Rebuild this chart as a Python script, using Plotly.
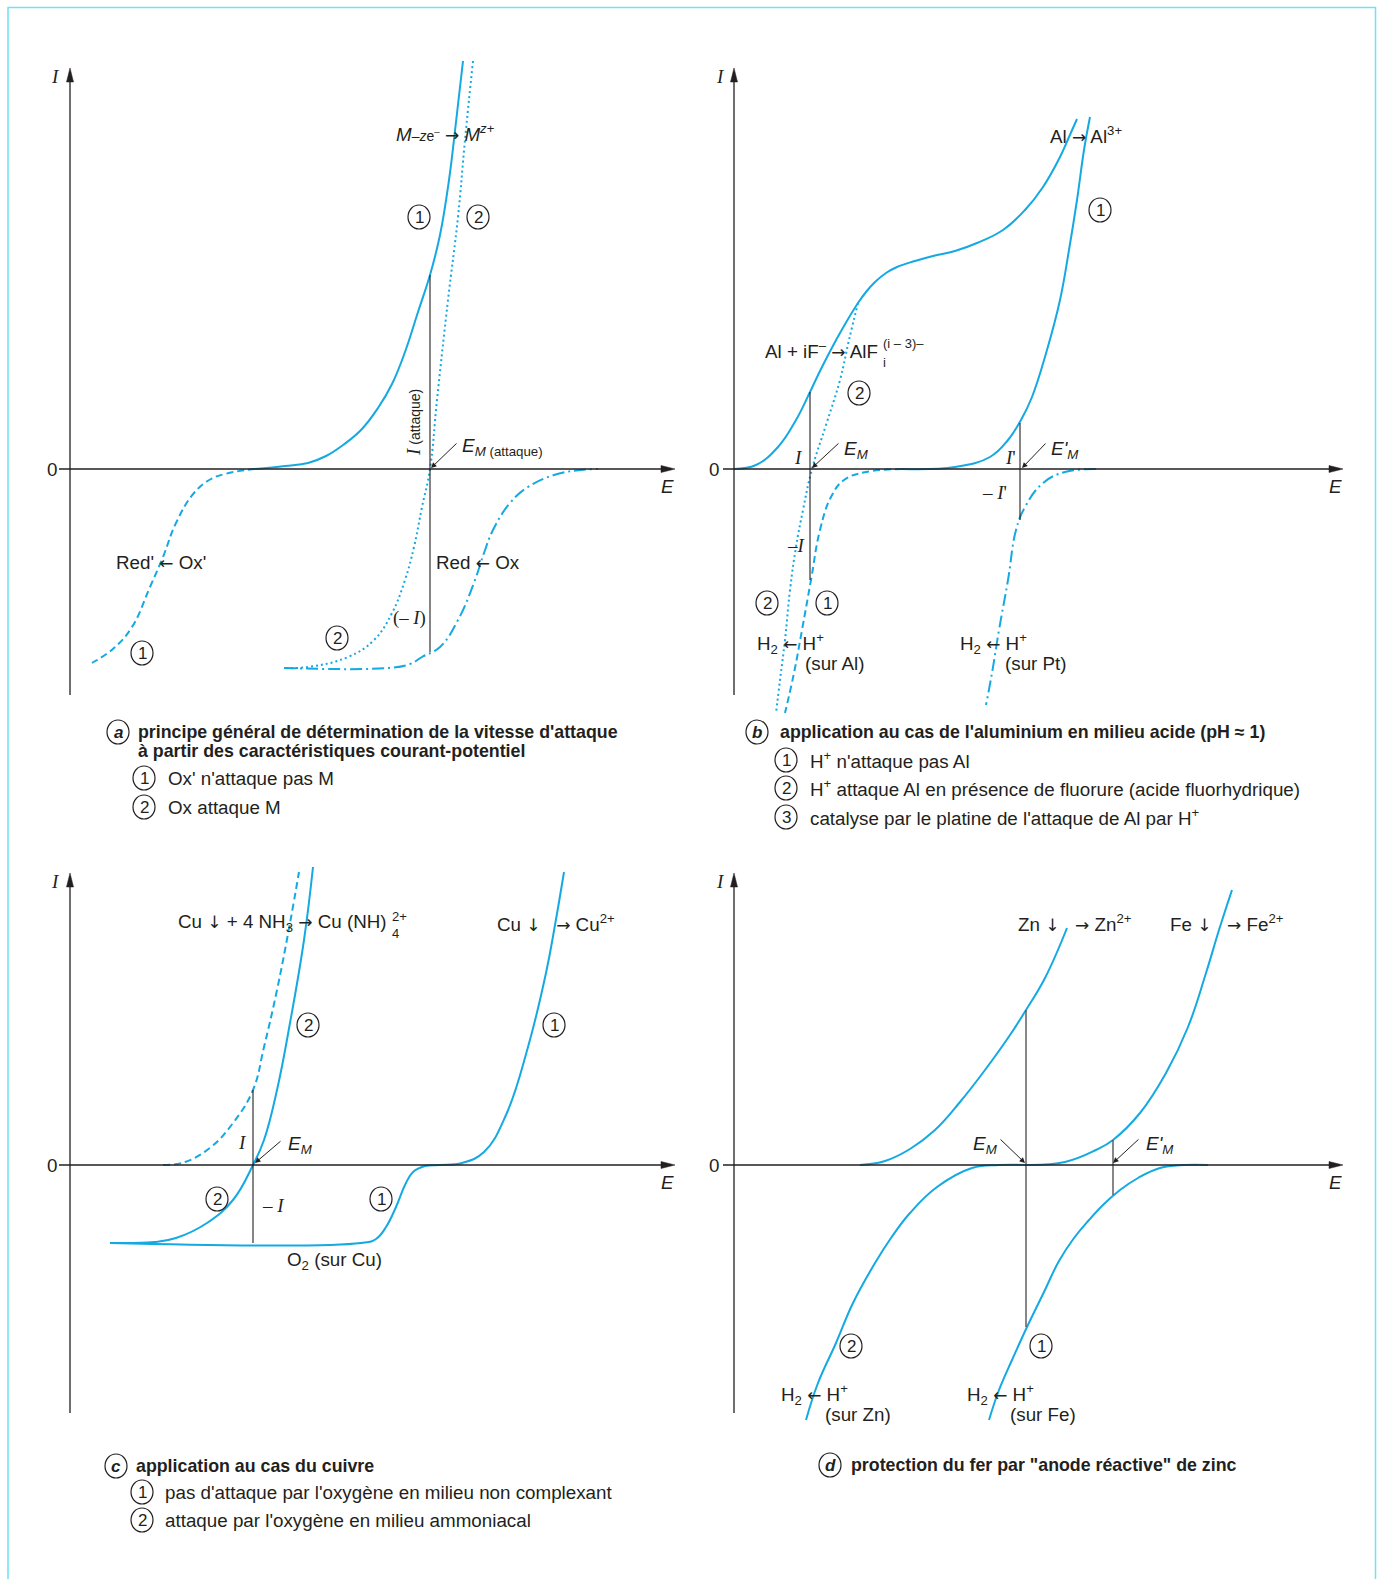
import plotly.graph_objects as go

W, H = 1378, 1579
BLUE = "#14a9e3"
INK = "#231f20"
FONT = "Liberation Sans, Arial, sans-serif"
SERIF = "Liberation Serif, Times New Roman, serif"
FS = 18.8
FS_BOLD = 17.8

# arrow glyphs drawn with a font that has well-proportioned arrows
def arw(ch, size=17):
    return f"<span style='font-family:DejaVu Sans;font-size:{size}px'>{ch}</span>"

RA, LA, DA = arw("→"), arw("←"), arw("↓", 17)

# ---------------------------------------------------------------------------
# Panel (a): general principle  (E, I in arbitrary units)
# ---------------------------------------------------------------------------
a_ox1_E = [185, 215, 238, 256, 273, 291, 308, 322, 335, 348, 360, 370, 379, 386, 393]
a_ox1_I = [0, 3, 6, 13, 24, 39, 61, 85, 117, 157, 194, 234, 289, 347, 408]
a_red1_E = [185, 176, 155, 141, 124, 106, 93, 80, 62, 44, 22]
a_red1_I = [0, -1, -5, -10, -24, -54, -88, -118, -158, -179, -194]
a_ox2_E = [403, 395, 388, 378, 367, 360, 352, 344, 335, 322, 304, 278, 238, 214]
a_ox2_I = [408, 329, 252, 169, 69, 0, -38, -78, -111, -144, -171, -188, -198, -199]
a_red2_E = [214, 317, 340, 352, 370, 388, 405, 414, 423, 440, 458, 484, 511, 528]
a_red2_I = [-199, -199, -195, -188, -178, -151, -111, -84, -61, -34, -18, -6, -1, 0]
a_EM = 360
a_attack_I = [194, -183]

# ---------------------------------------------------------------------------
# Panel (b): aluminium in acid medium
# ---------------------------------------------------------------------------
b_fluo_E = [0, 22, 44, 62, 76, 88, 106, 124, 132, 141, 152, 163, 181, 199, 221, 243, 269, 291, 309, 326, 335, 343]
b_fluo_I = [0, 4, 22, 49, 77, 102, 136, 166, 177, 187, 196, 202, 208, 213, 218, 226, 239, 259, 282, 312, 332, 350]
b_h2fl_E = [124, 115, 106, 92, 78, 69, 62, 56, 51, 46, 42]
b_h2fl_I = [166, 129, 89, 44, 0, -41, -78, -121, -171, -211, -244]
b_al_E = [168, 221, 256, 274, 287, 298, 313, 326, 335, 343, 350, 356]
b_al_I = [0, 2, 12, 29, 49, 72, 119, 169, 219, 269, 319, 352]
b_h2al_E = [168, 132, 110, 97, 86, 77, 68, 60, 51]
b_h2al_I = [0, -3, -11, -28, -61, -111, -161, -204, -244]
b_h2pt_E = [362, 331, 309, 291, 282, 274, 265, 258, 252]
b_h2pt_I = [0, -3, -14, -38, -61, -111, -161, -204, -236]
b_EM, b_EM_I = 76, [77, -111]
b_EMp, b_EMp_I = 286, [46, -51]

# ---------------------------------------------------------------------------
# Panel (c): copper
# ---------------------------------------------------------------------------
c_nh3_E = [93, 115, 141, 163, 183, 194, 207, 220, 229]
c_nh3_I = [0, 3, 18, 42, 75, 118, 175, 242, 293]
c_o2nh3_E = [40, 84, 106, 137, 163, 183, 194, 207, 220, 234, 243]
c_o2nh3_I = [-78, -77, -73, -58, -35, 0, 25, 75, 142, 225, 298]
c_cu_E = [40, 291, 306, 316, 326, 335, 343, 355, 370, 392, 414, 436, 458, 476, 485, 494]
c_cu_I = [-78, -78, -74, -62, -42, -20, -7, -1, 0, 2, 13, 50, 118, 192, 240, 293]
c_EM, c_EM_I = 183, [75, -78]

# ---------------------------------------------------------------------------
# Panel (d): zinc sacrificial anode protecting iron
# ---------------------------------------------------------------------------
d_zn_E = [126, 151, 176, 201, 226, 251, 276, 292, 311, 333]
d_zn_I = [0, 4, 16, 35, 63, 95, 130, 155, 187, 237]
d_fe_E = [293, 331, 362, 379, 406, 432, 454, 472, 485, 498]
d_fe_I = [0, 3, 15, 25, 52, 92, 138, 192, 235, 275]
d_h2zn_E = [293, 265, 238, 203, 176, 157, 141, 119, 102, 84, 72]
d_h2zn_I = [0, 0, -3, -22, -48, -73, -98, -138, -178, -218, -255]
d_h2fe_E = [474, 450, 426, 404, 386, 370, 355, 340, 325, 310, 293, 278, 265, 255]
d_h2fe_I = [0, 0, -3, -13, -25, -39, -55, -73, -96, -127, -162, -195, -225, -255]
d_EM, d_EM_I = 292, [155, -162]
d_EMp, d_EMp_I = 379, [25, -30]

# Panel placement on the page (pixel boxes) and the origin of each I/E frame
PANELS = {
    "a": dict(n="", box=(0, 689, 0, 840), origin=(70, 469), E_ax=(-11, 605), I_ax=(-226, 401)),
    "b": dict(n="2", box=(689, 1378, 0, 840), origin=(734, 469), E_ax=(-11, 609), I_ax=(-226, 401)),
    "c": dict(n="3", box=(0, 689, 840, 1579), origin=(70, 1165), E_ax=(-11, 605), I_ax=(-248, 292)),
    "d": dict(n="4", box=(689, 1378, 840, 1579), origin=(734, 1165), E_ax=(-11, 609), I_ax=(-248, 292)),
}

fig = go.Figure()
annotations = []
shapes = []
layout_axes = {}

for key, p in PANELS.items():
    x0, x1, y0, y1 = p["box"]
    ox, oy = p["origin"]
    layout_axes["xaxis" + p["n"]] = dict(domain=[x0 / W, x1 / W], range=[x0 - ox, x1 - ox],
                                        visible=False, fixedrange=True, anchor="y" + p["n"])
    layout_axes["yaxis" + p["n"]] = dict(domain=[1 - y1 / H, 1 - y0 / H], range=[oy - y1, oy - y0],
                                        visible=False, fixedrange=True, anchor="x" + p["n"])


def refs(k):
    n = PANELS[k]["n"]
    return "x" + n, "y" + n


def curve(k, E, I, dash="solid", width=2.0):
    xr, yr = refs(k)
    fig.add_trace(go.Scatter(x=E, y=I, xaxis=xr, yaxis=yr, mode="lines",
                             line=dict(color=BLUE, width=width, dash=dash, shape="spline", smoothing=1.2),
                             hoverinfo="skip", showlegend=False))


def vline(k, E, I_pair, color=INK, width=1.1):
    xr, yr = refs(k)
    fig.add_trace(go.Scatter(x=[E, E], y=I_pair, xaxis=xr, yaxis=yr, mode="lines",
                             line=dict(color=color, width=width), hoverinfo="skip", showlegend=False))


def label(k, E, I, text, size=FS, anchor="center", family=FONT, angle=0):
    xr, yr = refs(k)
    annotations.append(dict(xref=xr, yref=yr, x=E, y=I, text=text, showarrow=False,
                            xanchor=anchor, yanchor="middle", textangle=angle,
                            font=dict(family=family, size=size, color=INK)))


def circled(k, E, I, char, rx=11, ry=12, size=17):
    xr, yr = refs(k)
    shapes.append(dict(type="circle", xref=xr, yref=yr, x0=E - rx, x1=E + rx, y0=I - ry, y1=I + ry,
                       line=dict(color=INK, width=1.2)))
    label(k, E, I, char, size=size)


def pointer(k, E0, I0, E1, I1):
    xr, yr = refs(k)
    annotations.append(dict(xref=xr, yref=yr, axref=xr, ayref=yr, x=E1, y=I1, ax=E0, ay=I0,
                            text="", showarrow=True, arrowhead=2, arrowsize=1.1, arrowwidth=1,
                            arrowcolor=INK, standoff=0, startstandoff=0))


def frame_axes(k):
    xr, yr = refs(k)
    e0, e1 = PANELS[k]["E_ax"]
    i0, i1 = PANELS[k]["I_ax"]
    head, half = 14, 3.5
    shapes.append(dict(type="line", xref=xr, yref=yr, x0=0, x1=0, y0=i0, y1=i1 - head,
                       line=dict(color=INK, width=1.3)))
    shapes.append(dict(type="path", xref=xr, yref=yr,
                       path=f"M 0,{i1} L {-half},{i1 - head} L {half},{i1 - head} Z",
                       fillcolor=INK, line=dict(color=INK, width=0.5)))
    shapes.append(dict(type="line", xref=xr, yref=yr, x0=e0, x1=e1 - head, y0=0, y1=0,
                       line=dict(color=INK, width=1.3)))
    shapes.append(dict(type="path", xref=xr, yref=yr,
                       path=f"M {e1},0 L {e1 - head},{half} L {e1 - head},{-half} Z",
                       fillcolor=INK, line=dict(color=INK, width=0.5)))
    label(k, -15 if k in "ac" else -14, i1 - 8, "<i>I</i>", size=19, family=SERIF)
    label(k, -18 if k in "ac" else -20, 0, "0", size=FS)
    label(k, e1 - 8, -17, "<i>E</i>", size=FS)


DASH = "7px,4px"
DOT = "2px,3px"
DASHDOT = "12px,4px,2px,4px"

for k in "abcd":
    frame_axes(k)

# ---- panel a ----
curve("a", a_ox2_E, a_ox2_I, dash=DOT)
curve("a", a_red2_E, a_red2_I, dash=DASHDOT)
curve("a", a_ox1_E, a_ox1_I)
curve("a", a_red1_E, a_red1_I, dash=DASH)
vline("a", a_EM, a_attack_I)

label("a", 375, 336, "<i>M</i><span style='font-size:14px'>–<i>z</i>e<sup>–</sup></span> " + RA + " <i>M</i><sup><i>z</i>+</sup>")
circled("a", 349, 252, "1")
circled("a", 408, 252, "2")
label("a", 343, 46, "<i><span style='font-family:Liberation Serif'>I</span></i>"
      "<span style='font-size:14px'> (attaque)</span>", size=19, angle=-90)
label("a", 390, 22, "<i>E<sub>M</sub></i><sub> (attaque)</sub>", anchor="left", size=19)
pointer("a", 388, 27, 361, 1)
label("a", 91, -93, "Red' " + LA + " Ox'")
label("a", 408, -93, "Red " + LA + " Ox")
label("a", 339, -149, "(– <i>I</i>)", family=SERIF)
circled("a", 267, -169, "2")
circled("a", 72, -184, "1")
circled("a", 48, -263, "<b><i>a</i></b>")
label("a", 66, -263, "<b>principe général de détermination de la vitesse d'attaque</b>", anchor="left", size=FS_BOLD)
label("a", 66, -282, "<b>à partir des caractéristiques courant-potentiel</b>", anchor="left", size=FS_BOLD)
circled("a", 74, -309, "1")
label("a", 96, -309, "Ox' n'attaque pas M", anchor="left")
circled("a", 74, -338, "2")
label("a", 96, -338, "Ox attaque M", anchor="left")

# ---- panel b ----
curve("b", b_h2fl_E, b_h2fl_I, dash=DOT)
curve("b", b_fluo_E, b_fluo_I)
curve("b", b_h2al_E, b_h2al_I, dash=DASH)
curve("b", b_al_E, b_al_I)
curve("b", b_h2pt_E, b_h2pt_I, dash=DASHDOT)
vline("b", b_EM, b_EM_I)
vline("b", b_EMp, b_EMp_I)

label("b", 146, 119, "Al + iF<sup>–</sup> " + RA + " AlF", anchor="right")
label("b", 147, 126, "(i – 3)–", size=13, anchor="left")
label("b", 147, 107, "i", size=13, anchor="left")
label("b", 352, 334, "Al " + RA + " Al<sup>3+</sup>")
circled("b", 366, 259, "1")
circled("b", 125, 76, "2")
label("b", 64, 12, "<i>I</i>", family=SERIF, size=19)
label("b", 108, 19, "<i>E<sub>M</sub></i>", anchor="left", size=19)
pointer("b", 106, 27, 78, 1)
label("b", 276, 12, "<i>I</i>'", family=SERIF, size=19)
label("b", 315, 19, "<i>E'<sub>M</sub></i>", anchor="left", size=19)
pointer("b", 313, 27, 288, 1)
label("b", 260, -23, "– <i>I</i>'", family=SERIF, size=19)
label("b", 62, -76, "–<i>I</i>", family=SERIF, size=19)
circled("b", 33, -134, "2")
circled("b", 93, -134, "1")
label("b", 56, -174, "H<sub>2</sub> " + LA + " H<sup>+</sup>")
label("b", 100, -194, "(sur Al)")
label("b", 259, -174, "H<sub>2</sub> " + LA + " H<sup>+</sup>")
label("b", 302, -194, "(sur Pt)")
circled("b", 23, -263, "<b><i>b</i></b>")
label("b", 44, -263, "<b>application au cas de l'aluminium en milieu acide (pH ≈ 1)</b>", anchor="left", size=FS_BOLD)
circled("b", 52, -291, "1")
label("b", 74, -291, "H<sup>+</sup> n'attaque pas Al", anchor="left")
circled("b", 52, -319, "2")
label("b", 74, -319, "H<sup>+</sup> attaque Al en présence de fluorure (acide fluorhydrique)", anchor="left")
circled("b", 52, -348, "3")
label("b", 74, -348, "catalyse par le platine de l'attaque de Al par H<sup>+</sup>", anchor="left")

# ---- panel c ----
curve("c", c_nh3_E, c_nh3_I, dash=DASH)
curve("c", c_cu_E, c_cu_I)
curve("c", c_o2nh3_E, c_o2nh3_I)
vline("c", c_EM, c_EM_I)

label("c", 319, 242, "Cu " + DA + " + 4 NH<sub>3</sub> " + RA + " Cu (NH)", anchor="right")
label("c", 320, 249, "2+", size=13, anchor="left")
label("c", 320, 232, "4", size=13, anchor="left")
label("c", 425, 242, "Cu " + DA + "   " + RA + " Cu<sup>2+</sup>", anchor="left")
circled("c", 238, 140, "2")
circled("c", 484, 140, "1")
label("c", 172, 23, "<i>I</i>", family=SERIF, size=19)
label("c", 216, 20, "<i>E<sub>M</sub></i>", anchor="left", size=19)
pointer("c", 212, 25, 185, 2)
circled("c", 147, -34, "2")
label("c", 203, -40, "– <i>I</i>", family=SERIF, size=19)
circled("c", 311, -34, "1")
label("c", 264, -96, "O<sub>2</sub> (sur Cu)")
circled("c", 46, -301, "<b><i>c</i></b>")
label("c", 64, -301, "<b>application au cas du cuivre</b>", anchor="left", size=FS_BOLD)
circled("c", 72, -327, "1")
label("c", 93, -327, "pas d'attaque par l'oxygène en milieu non complexant", anchor="left")
circled("c", 72, -355, "2")
label("c", 93, -355, "attaque par l'oxygène en milieu ammoniacal", anchor="left")

# ---- panel d ----
curve("d", d_zn_E, d_zn_I)
curve("d", d_fe_E, d_fe_I)
curve("d", d_h2zn_E, d_h2zn_I)
curve("d", d_h2fe_E, d_h2fe_I)
vline("d", d_EM, d_EM_I, color="#555555", width=1.4)
vline("d", d_EMp, d_EMp_I, color="#555555", width=1.4)

label("d", 282, 242, "Zn " + DA + "   " + RA + " Zn<sup>2+</sup>", anchor="left")
label("d", 434, 242, "Fe " + DA + "   " + RA + " Fe<sup>2+</sup>", anchor="left")
label("d", 251, 20, "<i>E<sub>M</sub></i>", size=19)
pointer("d", 265, 27, 291, 2)
label("d", 410, 20, "<i>E'<sub>M</sub></i>", anchor="left", size=19)
pointer("d", 406, 27, 379, 2)
circled("d", 117, -181, "2")
circled("d", 307, -181, "1")
label("d", 80, -229, "H<sub>2</sub> " + LA + " H<sup>+</sup>")
label("d", 124, -249, "(sur Zn)")
label("d", 266, -229, "H<sub>2</sub> " + LA + " H<sup>+</sup>")
label("d", 309, -249, "(sur Fe)")
circled("d", 96, -300, "<b><i>d</i></b>")
label("d", 115, -300, "<b>protection du fer par \"anode réactive\" de zinc</b>", anchor="left", size=FS_BOLD)

# page frame
shapes.append(dict(type="rect", xref="paper", yref="paper",
                   x0=8 / W, x1=1375.5 / W, y0=-0.02, y1=1 - 7.5 / H,
                   line=dict(color="#6fe2f3", width=1.5)))

fig.update_layout(
    width=W, height=H, margin=dict(l=0, r=0, t=0, b=0),
    paper_bgcolor="white", plot_bgcolor="white",
    showlegend=False, annotations=annotations, shapes=shapes,
    font=dict(family=FONT, size=FS, color=INK),
    **layout_axes,
)

fig.write_html("out.html")
